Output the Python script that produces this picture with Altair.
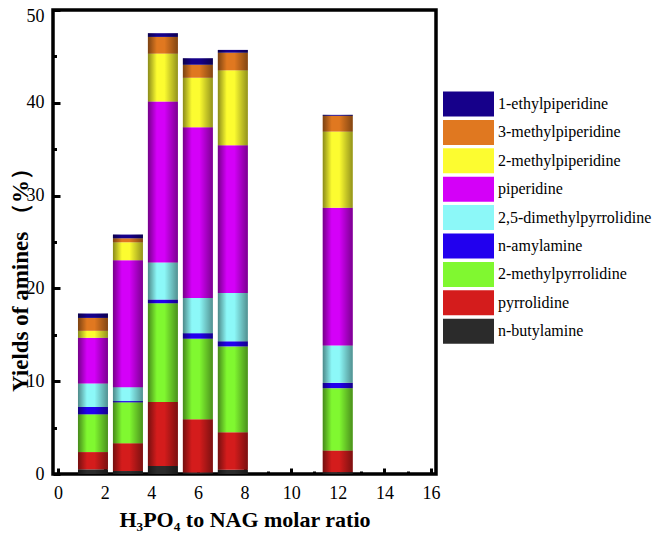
import altair as alt
import pandas as pd

# ---- data ----
ratios = [1.5, 3, 4.5, 6, 7.5, 12]

# stack order: bottom -> top
amines = [
    "n-butylamine",
    "pyrrolidine",
    "2-methylpyrrolidine",
    "n-amylamine",
    "2,5-dimethylpyrrolidine",
    "piperidine",
    "2-methylpiperidine",
    "3-methylpiperidine",
    "1-ethylpiperidine",
]
n_butylamine = [0.5, 0.32, 0.86, 0.15, 0.46, 0.2]
pyrrolidine = [1.86, 3.0, 6.89, 5.75, 4.04, 2.34]
methylpyrrolidine_2 = [4.07, 4.4, 10.65, 8.68, 9.25, 6.71]
n_amylamine = [0.79, 0.14, 0.4, 0.6, 0.55, 0.57]
dimethylpyrrolidine_25 = [2.53, 1.5, 4.0, 3.79, 5.2, 4.04]
piperidine = [4.93, 13.68, 17.35, 18.39, 15.93, 14.84]
methylpiperidine_2 = [0.75, 1.93, 5.15, 5.34, 8.07, 8.2]
methylpiperidine_3 = [1.39, 0.43, 1.8, 1.4, 1.9, 1.7]
ethylpiperidine_1 = [0.47, 0.4, 0.4, 0.7, 0.3, 0.1]

series_values = [
    n_butylamine, pyrrolidine, methylpyrrolidine_2, n_amylamine,
    dimethylpyrrolidine_25, piperidine, methylpiperidine_2,
    methylpiperidine_3, ethylpiperidine_1,
]
amine_colors = [
    "#2b2b2b", "#d41c1c", "#80f830", "#2200ee", "#8cf8f8",
    "#d400f8", "#fcfc30", "#e07820", "#16008a",
]

x_major = [0, 2, 4, 6, 8, 10, 12, 14, 16]
x_minor = [1, 3, 5, 7, 9, 11, 13, 15]
y_major = [0, 10, 20, 30, 40, 50]
y_minor = [5, 15, 25, 35, 45]

rows = []
for i, (name, vals) in enumerate(zip(amines, series_values)):
    for r, v in zip(ratios, vals):
        rows.append({"ratio": r, "amine": name, "value": v, "order": i})
df = pd.DataFrame(rows)

legend_order = amines[::-1]
legend_colors = amine_colors[::-1]

FONT = "Liberation Serif"

xscale = alt.Scale(domain=[0, 16], nice=False, zero=True)
yscale = alt.Scale(domain=[0, 50], nice=False, zero=True)

bars = alt.Chart(df).mark_bar(size=30).encode(
    x=alt.X(
        "ratio:Q", scale=xscale,
        axis=alt.Axis(
            values=x_major, format="d", title="H₃PO₄ to NAG molar ratio",
            titleFont=FONT, titleFontSize=22, titleFontWeight="bold",
            titlePadding=7,
            labelFont=FONT, labelFontSize=18, labelPadding=16,
            labelFlush=False,
            tickSize={"expr": "-6"}, tickWidth=3, domain=False, grid=False,
        ),
    ),
    y=alt.Y(
        "value:Q", stack="zero", scale=yscale,
        axis=alt.Axis(
            values=y_major, format="d", title="Yields of amines （%）",
            titleFont=FONT, titleFontSize=23, titleFontWeight="bold",
            titleX=-33, titleY=264, titleAngle=270, titleAlign="center",
            titleBaseline="middle",
            labelFont=FONT, labelFontSize=18, labelPadding=16,
            labelFlush=False,
            labelOffset={"condition": {"test": "datum.value === 50", "value": 6}, "value": 0},
            tickSize={"expr": "-7"}, tickWidth=3, domain=False, grid=False,
        ),
    ),
    color=alt.Color(
        "amine:N",
        scale=alt.Scale(domain=legend_order, range=legend_colors),
        legend=alt.Legend(
            orient="none", legendX=390, legendY=81.5, title=None,
            symbolType="M-2.04,-1H2.04V1H-2.04Z", symbolSize=625,
            symbolOffset=13, symbolStrokeWidth=0, symbolOpacity=1,
            labelFont=FONT, labelFontSize=16, labelColor="black",
            labelOffset=17, labelLimit=300, rowPadding=3.4, padding=0,
        ),
    ),
    order=alt.Order("order:Q", sort="ascending"),
)

shade_fill = alt.LinearGradient(
    gradient="linear", x1=0, x2=1, y1=0, y2=0,
    stops=[
        alt.GradientStop(offset=0, color="rgba(0,0,0,0.45)"),
        alt.GradientStop(offset=0.3, color="rgba(0,0,0,0)"),
        alt.GradientStop(offset=0.55, color="rgba(0,0,0,0)"),
        alt.GradientStop(offset=1, color="rgba(0,0,0,0.42)"),
    ],
)

shade = alt.Chart(df).transform_aggregate(
    total="sum(value)", groupby=["ratio"]
).mark_bar(size=30, fill=shade_fill).encode(
    x=alt.X(
        "ratio:Q", scale=xscale,
        axis=alt.Axis(
            values=x_minor, labels=False, title=None, orient="bottom",
            tickSize={"expr": "-3"}, tickWidth=3, domain=False, grid=False,
        ),
    ),
    y=alt.Y(
        "total:Q", scale=yscale,
        axis=alt.Axis(
            values=y_minor, labels=False, title=None, orient="left",
            tickSize={"expr": "-3.5"}, tickWidth=3, domain=False, grid=False,
        ),
    ),
)

chart = alt.layer(bars, shade).resolve_axis(
    x="independent", y="independent"
).properties(
    width=383, height=464,
    padding={"left": 45, "top": 2, "right": 216, "bottom": 60},
    autosize=alt.AutoSizeParams(type="none"),
).configure(
    font=FONT
).configure_view(
    stroke="black", strokeWidth=3.5
).configure_axis(
    labelFont=FONT, titleFont=FONT, labelColor="black", titleColor="black",
    tickColor="black",
).configure_legend(
    labelFont=FONT
)

chart.save("out.html", embed_options={"renderer": "svg", "actions": False})
